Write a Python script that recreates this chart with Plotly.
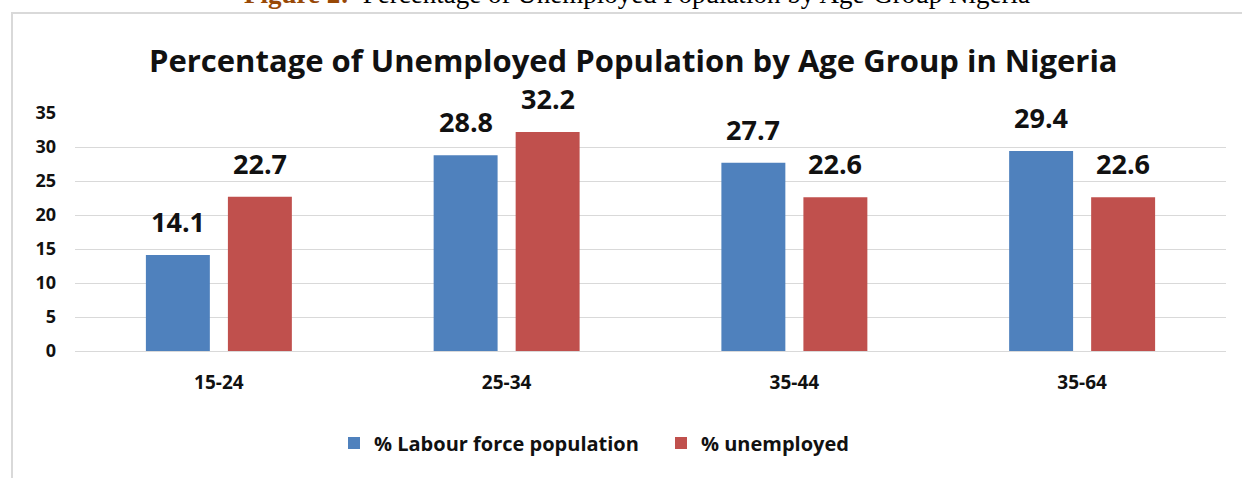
import plotly.graph_objects as go

categories = ["15-24", "25-34", "35-44", "35-64"]
labour_force = [14.1, 28.8, 27.7, 29.4]
unemployed = [22.7, 32.2, 22.6, 22.6]
series_names = ["% Labour force population", "% unemployed"]
y_ticks = [0, 5, 10, 15, 20, 25, 30, 35]

BLUE = "#4f81bd"
RED = "#c0504d"
FONT = "Open Sans"
TXT = "#111111"

W, H = 1242, 478
L, R, T, B = 75, 16, 113, 127
pw, ph = W - L - R, H - T - B

def px_x(p):
    return (p - L) / pw

def px_y(p):
    return (H - B - p) / ph

fig = go.Figure()
fig.add_bar(x=categories, y=labour_force, name=series_names[0],
            marker=dict(color=BLUE, line=dict(width=0)))
fig.add_bar(x=categories, y=unemployed, name=series_names[1],
            marker=dict(color=RED, line=dict(width=0)))

annotations = []
for vals, shift in ((labour_force, -41), (unemployed, 41)):
    for c, v in zip(categories, vals):
        annotations.append(dict(x=c, y=v, xref="x", yref="y", text=f"<b>{v:.1f}</b>",
                                showarrow=False, xshift=shift, yanchor="bottom",
                                yshift=13,
                                font=dict(family=FONT, size=27, color=TXT)))

annotations.append(dict(
    x=px_x(637), y=px_y(-6), xref="paper", yref="paper", xanchor="center", yanchor="middle",
    showarrow=False,
    text="<b><span style='color:#984806'>Figure 2:</span></b>  Percentage of Unemployed Population by Age-Group Nigeria",
    font=dict(family="Liberation Serif", size=27, color="#000000")))

annotations.append(dict(
    x=px_x(633), y=px_y(60), xref="paper", yref="paper", xanchor="center", yanchor="middle",
    showarrow=False,
    text="<b>Percentage of Unemployed Population by Age Group in Nigeria</b>",
    font=dict(family=FONT, size=31, color=TXT)))

fig.update_layout(
    width=W, height=H,
    margin=dict(l=L, r=R, t=T, b=B, pad=0),
    paper_bgcolor="white", plot_bgcolor="white",
    barmode="group", bargap=0.43, bargroupgap=0.22,
    showlegend=True,
    legend=dict(orientation="h", x=px_x(334), y=px_y(443), xanchor="left", yanchor="middle",
                font=dict(family=FONT, size=20, color=TXT, weight="bold"),
                itemwidth=30, traceorder="normal",
                entrywidth=282, entrywidthmode="pixels"),
    annotations=annotations,
    shapes=[dict(type="rect", xref="paper", yref="paper",
                 x0=px_x(12), y0=px_y(520), x1=px_x(1300), y1=px_y(13),
                 line=dict(color="#d9d9d9", width=2), layer="below")],
    font=dict(family=FONT),
)
fig.update_xaxes(showgrid=False, showline=False, ticks="",
                 tickfont=dict(family=FONT, size=19, color=TXT, weight="bold"),
                 ticklabelstandoff=18)
fig.update_yaxes(range=[0, 35], tickvals=y_ticks, showgrid=True, gridcolor="#d9d9d9",
                 gridwidth=1, zeroline=True, zerolinecolor="#d9d9d9", zerolinewidth=1,
                 showline=False, ticks="",
                 tickfont=dict(family=FONT, size=18, color=TXT, weight="bold"),
                 ticklabelstandoff=18)

fig.write_html("out.html")
